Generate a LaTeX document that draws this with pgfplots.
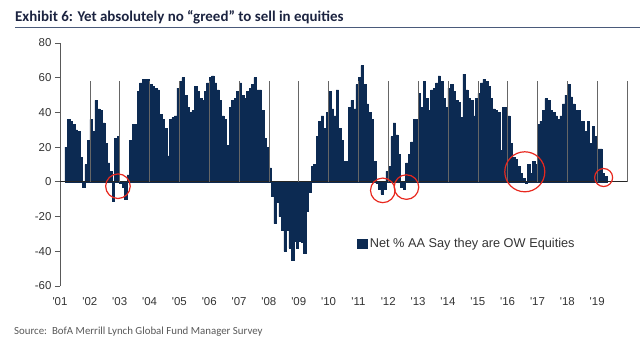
\documentclass[border=0pt]{standalone}
\usepackage{pgfplots}
\pgfplotsset{compat=1.18}
\usepackage{pgfplotstable}
\usepackage{fontspec}
\setmainfont{Liberation Sans}
\newfontfamily\carlito{Carlito}
\definecolor{barcol}{HTML}{0C2A52}
\definecolor{titlecol}{HTML}{1B2340}
\definecolor{rulecol}{HTML}{4A5A7A}
\definecolor{tickcol}{HTML}{333333}
\definecolor{srccol}{HTML}{595959}
\definecolor{circ}{HTML}{E8281E}

\pgfplotstableread{
m v
2 20
3 36
4 35
5 33
6 30
7 29
8 14
9 -3
10 10
11 24
12 36
13 29
14 47
15 42
16 41
17 34
18 22
19 11
20 6
21 -11
22 25
23 26
24 -1
25 -3
26 -10
27 4
28 24
29 33
30 33
31 52
32 57
33 59
34 59
35 59
36 56
37 55
38 54
39 53
40 39
41 36
42 31
43 15
44 36
45 37
46 38
47 54
48 58
49 60
50 50
51 43
52 40
53 41
54 55
55 52
56 48
57 47
58 52
59 57
60 60
61 61
62 57
63 53
64 47
65 38
66 36
67 21
68 43
69 47
70 48
71 52
72 57
73 50
74 48
75 52
76 54
77 56
78 60
79 53
80 53
81 41
82 25
83 20
84 8
85 -8
86 -24
87 -12
88 -20
89 -28
90 -40
91 -28
92 -38
93 -45
94 -34
95 -38
96 -34
97 -35
98 -41
99 -17
100 -6
101 9
102 10
103 26
104 35
105 38
106 31
107 40
108 52
109 42
110 38
111 53
112 31
113 24
114 12
115 12
116 43
117 47
118 42
119 56
120 60
121 67
122 56
123 45
124 40
125 36
126 12
127 -1
128 -4
129 -7
130 -4
131 6
132 9
133 26
134 34
135 27
136 16
137 -3
138 -4
139 11
140 16
141 23
142 36
143 36
144 51
145 43
146 58
147 48
148 41
149 53
150 54
151 57
152 61
153 58
154 48
155 43
156 54
157 56
158 52
159 47
160 46
161 37
162 62
163 53
164 48
165 47
166 38
167 48
168 51
169 57
170 59
171 58
172 55
173 48
174 42
175 41
176 40
177 18
178 43
179 43
180 38
181 22
182 14
183 13
184 9
185 5
186 2
187 -1
188 10
189 5
190 12
191 10
192 33
193 35
194 41
195 48
196 47
197 41
198 40
199 38
200 36
201 38
202 45
203 50
204 56
205 49
206 45
207 41
208 41
209 35
210 35
211 29
212 35
213 22
214 32
215 26
216 19
217 19
218 5
219 3
}\fmsdata

\begin{document}
\begin{tikzpicture}[x=1bp,y=1bp]
\useasboundingbox (0,0) rectangle (640,-356);
\node[anchor=base west, inner sep=0, font=\carlito\bfseries\fontsize{15}{18}\selectfont, text=titlecol] at (15,-21.5) {Exhibit 6: Yet absolutely no “greed” to sell in equities};
\draw[rulecol, line width=0.8bp] (15,-27.5) -- (640,-27.5);
\node[anchor=base west, inner sep=0, font=\carlito\fontsize{10.9}{12}\selectfont, text=srccol] at (14,-334) {Source:\ \ BofA Merrill Lynch Global Fund Manager Survey};
\begin{axis}[
  at={(60bp,-286bp)}, anchor=south west,
  scale only axis, width=567bp, height=243bp,
  xmin=0, xmax=228, ymin=-60, ymax=80,
  axis y line=left, axis x line=bottom,
  axis line style={-},
  x axis line style={draw=none},
  y axis line style={draw=black!65, line width=0.8bp},
  xtick={0,12,...,216},
  xticklabels={\textquotesingle01,\textquotesingle02,\textquotesingle03,\textquotesingle04,\textquotesingle05,\textquotesingle06,\textquotesingle07,\textquotesingle08,\textquotesingle09,\textquotesingle10,\textquotesingle11,\textquotesingle12,\textquotesingle13,\textquotesingle14,\textquotesingle15,\textquotesingle16,\textquotesingle17,\textquotesingle18,\textquotesingle19},
  xtick style={draw=none},
  ytick={-60,-40,...,80},
  ytick style={draw=black!65, line width=0.8bp},
  tick align=outside, major tick length=5bp,
  tick label style={font=\fontsize{11.5}{13}\selectfont, text=tickcol},
  xticklabel style={yshift=-3bp},
  /pgf/number format/assume math mode=true,
  legend style={at={(rel axis cs:0.524,0.173)}, anchor=west, draw=none, fill=none,
    font=\fontsize{12.8}{14}\selectfont, text=tickcol, inner sep=0pt},
  legend image code/.code={\fill[barcol] (0bp,-4.5bp) rectangle (10bp,4.5bp);},
  clip=false,
]
\addplot[ybar, bar width=1, bar shift=0, fill=barcol, draw=barcol, line width=0.5bp]
  table[x expr=\thisrow{m}+0.5, y=v] {\fmsdata};
\addlegendentry{Net \% AA Say they are OW Equities}
\draw[black!85, line width=0.9bp] (axis cs:0,0) -- (axis cs:228,0);
\pgfplotsinvokeforeach{12,24,...,228}{
  \draw[black!60, line width=0.6bp] (axis cs:#1,0) -- ++(0,-3bp);
}
\draw[circ, line width=1.2bp] (axis cs:23.3,-2.5) circle[radius=12.3bp];
\draw[circ, line width=1.2bp] (axis cs:129.8,-4.9) circle[radius=12.3bp];
\draw[circ, line width=1.2bp] (axis cs:139.3,-3) circle[radius=12.3bp];
\draw[circ, line width=1.2bp] (axis cs:186.9,5.8) circle[radius=20bp];
\draw[circ, line width=1.2bp] (axis cs:218.6,2.5) circle[radius=9bp];
\end{axis}
\end{tikzpicture}
\end{document}
